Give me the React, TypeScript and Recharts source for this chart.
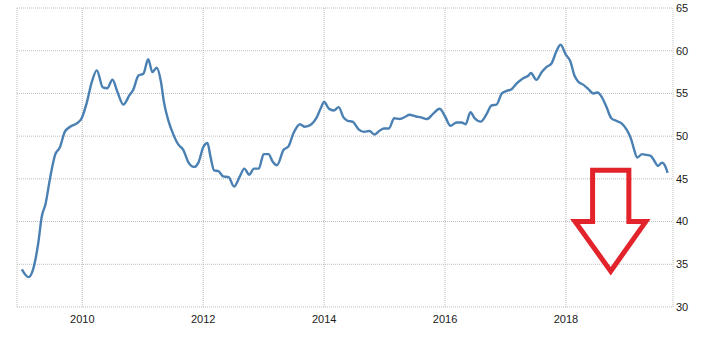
import { ComposedChart, Line, XAxis, YAxis, CartesianGrid } from "recharts";

if (typeof document !== "undefined") document.body.style.margin = "0";

// decimal year of each reading
const years = [
  2009.0, 2009.11, 2009.19, 2009.27, 2009.33, 2009.39, 2009.47, 2009.55, 2009.63, 2009.71, 2009.8, 2009.91, 2009.99,
  2010.07, 2010.16, 2010.24, 2010.34, 2010.41, 2010.5, 2010.58, 2010.68, 2010.78, 2010.84, 2010.93,
  2011.01, 2011.09, 2011.16, 2011.23, 2011.3, 2011.35, 2011.42, 2011.5, 2011.59, 2011.67, 2011.75, 2011.85, 2011.92,
  2012.0, 2012.07, 2012.12, 2012.18, 2012.25, 2012.33, 2012.42, 2012.51, 2012.6, 2012.68, 2012.76, 2012.84, 2012.92,
  2013.0, 2013.08, 2013.15, 2013.22, 2013.33, 2013.41, 2013.49, 2013.6, 2013.68, 2013.79, 2013.87, 2013.94,
  2014.0, 2014.08, 2014.16, 2014.24, 2014.32, 2014.39, 2014.47, 2014.57, 2014.66, 2014.75, 2014.83, 2014.91, 2014.99,
  2015.07, 2015.16, 2015.25, 2015.35, 2015.41, 2015.52, 2015.6, 2015.7, 2015.8, 2015.91,
  2016.0, 2016.09, 2016.19, 2016.27, 2016.34, 2016.42, 2016.49, 2016.59, 2016.68, 2016.77, 2016.85, 2016.94,
  2017.02, 2017.1, 2017.19, 2017.3, 2017.38, 2017.42, 2017.51, 2017.6, 2017.68, 2017.76, 2017.84, 2017.91,
  2018.0, 2018.07, 2018.14, 2018.2, 2018.29, 2018.37, 2018.45, 2018.52, 2018.59, 2018.67, 2018.75, 2018.83, 2018.92,
  2019.0, 2019.08, 2019.12, 2019.18, 2019.26, 2019.33, 2019.4, 2019.47, 2019.52, 2019.59, 2019.64, 2019.68,
];

const values = [
  34.4, 33.5, 34.5, 37.4, 40.6, 42.0, 45.2, 47.8, 48.7, 50.5, 51.1, 51.5, 52.1,
  53.8, 56.4, 57.7, 55.7, 55.6, 56.6, 55.2, 53.7, 54.8, 55.4, 57.1,
  57.3, 59.0, 57.5, 58.0, 56.4, 54.0, 51.9, 50.3, 49.0, 48.4, 47.0, 46.4, 46.9,
  48.7, 49.2, 47.6, 46.0, 45.9, 45.3, 45.2, 44.1, 45.2, 46.2, 45.5, 46.2, 46.2,
  47.9, 47.9, 47.0, 46.6, 48.4, 48.8, 50.3, 51.4, 51.1, 51.4, 52.1, 53.2,
  54.0, 53.2, 53.0, 53.4, 52.2, 51.8, 51.7, 50.8, 50.5, 50.6, 50.2, 50.6, 50.9,
  50.9, 52.1, 52.0, 52.3, 52.5, 52.3, 52.2, 52.0, 52.6, 53.2,
  52.3, 51.2, 51.6, 51.6, 51.4, 52.8, 52.1, 51.7, 52.5, 53.6, 53.7, 55.0,
  55.3, 55.5, 56.2, 56.8, 57.1, 57.4, 56.6, 57.5, 58.1, 58.5, 59.9, 60.7,
  59.5, 58.8, 57.1, 56.4, 56.0, 55.5, 55.0, 55.1, 54.6, 53.4, 52.1, 51.8, 51.5,
  50.8, 49.6, 48.6, 47.5, 47.9, 47.8, 47.7, 47.0, 46.5, 46.9, 46.5, 45.7,
];

// red "down" arrow outline, in chart units (closed path starting mid-top)
const arrowX = [2018.74, 2019.04, 2019.04, 2019.32, 2018.74, 2018.15, 2018.44, 2018.44, 2018.74];
const arrowY = [46, 46, 40, 40, 34.2, 40, 40, 46, 46];

const xTicks = [2010, 2012, 2014, 2016, 2018];
const yTicks = [30, 35, 40, 45, 50, 55, 60, 65];

const seriesData = years.map((t, i) => ({ t, v: values[i] }));
const arrowData = arrowX.map((t, i) => ({ t, a: arrowY[i] }));

const tickStyle = { fontSize: 11, fill: "#1a1a1a", fontFamily: "'Liberation Sans', Arial, sans-serif" };

export default function App() {
  return (
    <ComposedChart width={712} height={337} margin={{ top: 8, right: 0, bottom: 0, left: 17 }}>
      <CartesianGrid stroke="#bdbdbd" strokeDasharray="1 1" />
      <XAxis
        dataKey="t"
        type="number"
        domain={[2008.92, 2019.77]}
        allowDataOverflow
        ticks={xTicks}
        tickLine={false}
        axisLine={false}
        tickSize={0}
        tickMargin={8}
        height={30}
        tick={tickStyle}
      />
      <YAxis
        orientation="right"
        type="number"
        domain={[30, 65]}
        ticks={yTicks}
        tickLine={false}
        axisLine={false}
        tickSize={0}
        tickMargin={3}
        width={39}
        tick={tickStyle}
      />
      <Line
        data={seriesData}
        dataKey="v"
        type="monotone"
        stroke="#4a80b2"
        strokeWidth={2.4}
        dot={false}
        isAnimationActive={false}
      />
      <Line
        data={arrowData}
        dataKey="a"
        type="linear"
        stroke="#e3232c"
        strokeWidth={5}
        strokeLinejoin="miter"
        dot={false}
        isAnimationActive={false}
      />
    </ComposedChart>
  );
}
